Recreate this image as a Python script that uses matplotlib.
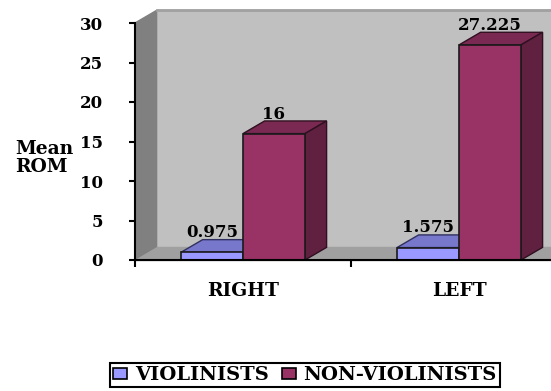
import matplotlib
matplotlib.use("Agg")
import matplotlib.pyplot as plt
from matplotlib.patches import Polygon, Patch

categories = ["RIGHT", "LEFT"]
violinists = [0.975, 1.575]
non_violinists = [16, 27.225]
y_ticks = [0, 5, 10, 15, 20, 25, 30]

# depth of the fake 3d box, in data units
dx = 0.1
dy = 1.6
bar_w = 0.287
xmax = 416 / 216

plt.rcParams['font.family'] = 'DejaVu Serif'
plt.rcParams['font.weight'] = 'bold'

fig = plt.figure(figsize=(5.51, 3.91), dpi=100)
ax = fig.add_axes([135 / 551, 131 / 391, 416 / 551, 237 / 391])
ax.set_xlim(0, xmax)
ax.set_ylim(0, 30)
ax.patch.set_visible(False)


def poly(points, color, z, edge=None):
    ax.add_patch(Polygon(points, closed=True, facecolor=color, edgecolor=edge or color,
                         linewidth=1, clip_on=False, zorder=z))


# walls and floor
poly([(dx, dy), (xmax, dy), (xmax, 30 + dy), (dx, 30 + dy)], '#C0C0C0', 1)
ax.plot([dx, xmax], [30 + dy, 30 + dy], color='#A0A0A0', lw=2, clip_on=False, zorder=1.5)
poly([(0, 0), (dx, dy), (dx, 30 + dy), (0, 30)], '#808080', 1)
poly([(0, 0), (xmax, 0), (xmax, dy), (dx, dy)], '#A0A0A0', 1)


def box(x, value, front, top, side, z):
    ax.bar(x, value, width=bar_w, align='edge', color=front, edgecolor='#1a1a1a',
           linewidth=1.2, zorder=z + 0.2, clip_on=False)
    poly([(x, value), (x + bar_w, value), (x + bar_w + dx, value + dy), (x + dx, value + dy)],
         top, z, '#301020' if front == '#993366' else '#303060')
    poly([(x + bar_w, 0), (x + bar_w + dx, dy), (x + bar_w + dx, value + dy), (x + bar_w, value)],
         side, z, '#301020' if front == '#993366' else '#303060')


for i in range(len(categories)):
    c = i + 0.5
    box(c - bar_w, violinists[i], '#9999FF', '#7777CC', '#7777CC', 3)
    box(c, non_violinists[i], '#993366', '#7A2952', '#602040', 4)
    ax.text(c - bar_w / 2, violinists[i] + dy - 0.2, str(violinists[i]), ha='center',
            va='bottom', fontsize=12, zorder=6)
    ax.text(c + bar_w / 2, non_violinists[i] + dy - 0.2, str(non_violinists[i]), ha='center',
            va='bottom', fontsize=12, zorder=6)

# axes
for s in ['top', 'right']:
    ax.spines[s].set_visible(False)
for s in ['left', 'bottom']:
    ax.spines[s].set_linewidth(1.5)
    ax.spines[s].set_zorder(5)
ax.set_yticks(y_ticks)
ax.tick_params(axis='y', width=1.5, length=4, pad=19, labelsize=12)
ax.set_xticks([0, 1])
ax.set_xticklabels([])
ax.tick_params(axis='x', which='major', width=1.5, length=5)
ax.set_xticks([i + 0.5 for i in range(len(categories))], categories, minor=True)
ax.tick_params(axis='x', which='minor', length=0, pad=16, labelsize=13.5)

fig.text(15 / 551, 1 - 158 / 391, "Mean\nROM", ha='left', va='center', fontsize=13.5, linespacing=1.0)

handles = [Patch(facecolor='#9999FF', edgecolor='black', linewidth=1.2, label='VIOLINISTS'),
           Patch(facecolor='#993366', edgecolor='black', linewidth=1.2, label='NON-VIOLINISTS')]
leg = fig.legend(handles=handles, ncol=2, loc='center', bbox_to_anchor=(305 / 551, 1 - 375 / 391),
                 fancybox=False, framealpha=1, edgecolor='black', fontsize=14, handlelength=0.7,
                 handleheight=0.5, handletextpad=0.4, columnspacing=0.7, borderpad=0.15,
                 borderaxespad=0)
leg.get_frame().set_linewidth(1.5)

fig.savefig('out.png', dpi=100)
